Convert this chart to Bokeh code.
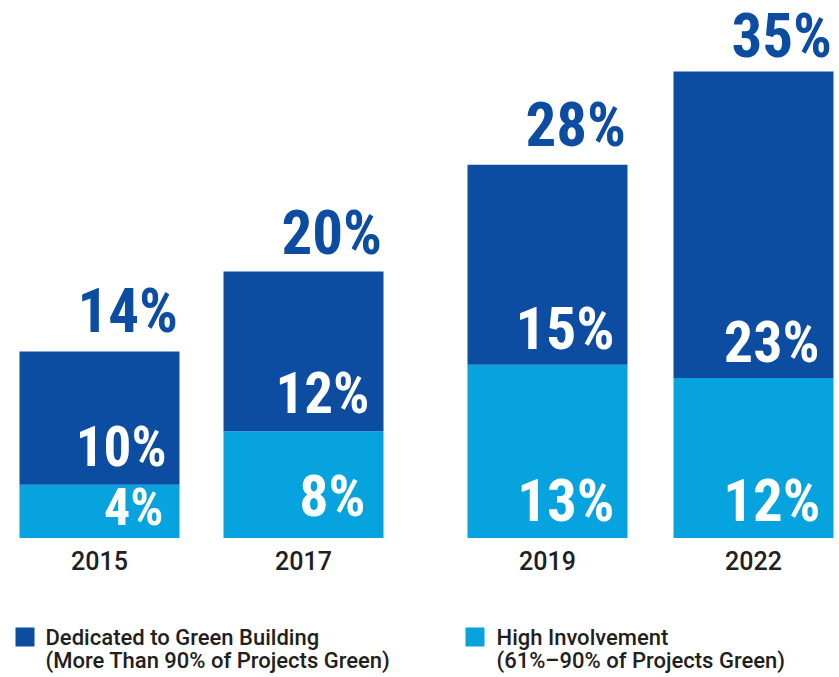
from bokeh.plotting import figure
from bokeh.models import Range1d, ColumnDataSource
from bokeh.core.properties import value
from bokeh.embed import file_html
from bokeh.resources import INLINE

# ---- data ----
years = ["2015", "2017", "2019", "2022"]
high_involvement = [4, 8, 13, 12]      # 61%-90% of projects green
dedicated = [10, 12, 15, 23]           # more than 90% of projects green
totals = [14, 20, 28, 35]
legend_labels = [
    ("Dedicated to Green Building", "(More Than 90% of Projects Green)"),
    ("High Involvement", "(61%\u201390% of Projects Green)"),
]

# ---- layout / style ----
W, H = 839, 677
BASE_PX = 537.5          # pixel row of the zero line
PX = 13.33               # pixels per percentage point
x_pos = [99, 303, 547, 753]   # bar centres
BAR_W = 160
DARK = "#0c4da2"
LIGHT = "#06a3de"
TXT = "#231f20"
NUM_FONT = value("Roboto Condensed")
TXT_FONT = value("Roboto Medium")
MID = 0.37               # renderer places text roughly centred on its anchor

ded_size = [55, 57, 60, 58]
hi_size = [52, 58, 59, 59]
ded_gap = [17, 17, 14, 15]
hi_gap = [11.5, 21, 15.5, 15.5]
ded_rgap = [13, 14, 13, 14]
hi_rgap = [16, 18, 13, 13]
TOT_SIZE = 61
tot_gap = [18, 16, 17, 13]


def yv(px):
    return (BASE_PX - px) / PX


p = figure(width=W, height=H, output_backend="svg", toolbar_location=None,
           x_range=Range1d(0, W), y_range=Range1d(yv(H), yv(0)),
           x_axis_type=None, y_axis_type=None, min_border=0)
p.outline_line_color = None
p.xgrid.visible = False
p.ygrid.visible = False

src = ColumnDataSource(dict(
    x=x_pos,
    year=years,
    hi=high_involvement,
    top=[a + b for a, b in zip(high_involvement, dedicated)],
    hi_lbl=[f"{v}%" for v in high_involvement],
    ded_lbl=[f"{v}%" for v in dedicated],
    tot_lbl=[f"{v}%" for v in totals],
    xr=[x + BAR_W / 2 for x in x_pos],
    zero=[0] * len(years),
    ded_fs=[f"{s}px" for s in ded_size],
    hi_fs=[f"{s}px" for s in hi_size],
    ded_dy=[-(g + MID * s) for g, s in zip(ded_gap, ded_size)],
    hi_dy=[-(g + MID * s) for g, s in zip(hi_gap, hi_size)],
    tot_dy=[-(g + MID * TOT_SIZE) for g in tot_gap],
    ded_dx=[-g for g in ded_rgap],
    hi_dx=[-g for g in hi_rgap],
))

p.vbar(x="x", width=BAR_W, bottom="zero", top="hi", source=src,
       fill_color=LIGHT, line_color=None)
p.vbar(x="x", width=BAR_W, bottom="hi", top="top", source=src,
       fill_color=DARK, line_color=None)

# totals above bars
p.text(x="xr", y="top", text="tot_lbl", source=src, x_offset=-1.5, y_offset="tot_dy",
       text_align="right", text_baseline="alphabetic", text_color=DARK,
       text_font=NUM_FONT, text_font_style="bold", text_font_size=f"{TOT_SIZE}px")
# inner labels
p.text(x="xr", y="hi", text="ded_lbl", source=src, x_offset="ded_dx", y_offset="ded_dy",
       text_align="right", text_baseline="alphabetic", text_color="white",
       text_font=NUM_FONT, text_font_style="bold", text_font_size="ded_fs")
p.text(x="xr", y="zero", text="hi_lbl", source=src, x_offset="hi_dx", y_offset="hi_dy",
       text_align="right", text_baseline="alphabetic", text_color="white",
       text_font=NUM_FONT, text_font_style="bold", text_font_size="hi_fs")
# year labels
p.text(x="x", y="zero", text="year", source=src, y_offset=31.5 - MID * 25,
       text_align="center", text_baseline="alphabetic", text_color=TXT,
       text_font=TXT_FONT, text_font_size="25px")

# legend (manual)
sq_x = [24.5, 474.5]
txt_x = [45, 496]
p.scatter(x=sq_x, y=[yv(636.5)] * 2, marker="square", size=19,
          fill_color=[DARK, LIGHT], line_color=None)
p.text(x=txt_x, y=[yv(645 - MID * 22)] * 2, text=[l[0] for l in legend_labels],
       text_align="left", text_baseline="alphabetic", text_color=TXT,
       text_font=TXT_FONT, text_font_size="22px")
p.text(x=txt_x, y=[yv(668 - MID * 22)] * 2, text=[l[1] for l in legend_labels],
       text_align="left", text_baseline="alphabetic", text_color=TXT,
       text_font=TXT_FONT, text_font_size="22px")

open("out.html", "w").write(file_html(p, INLINE))
